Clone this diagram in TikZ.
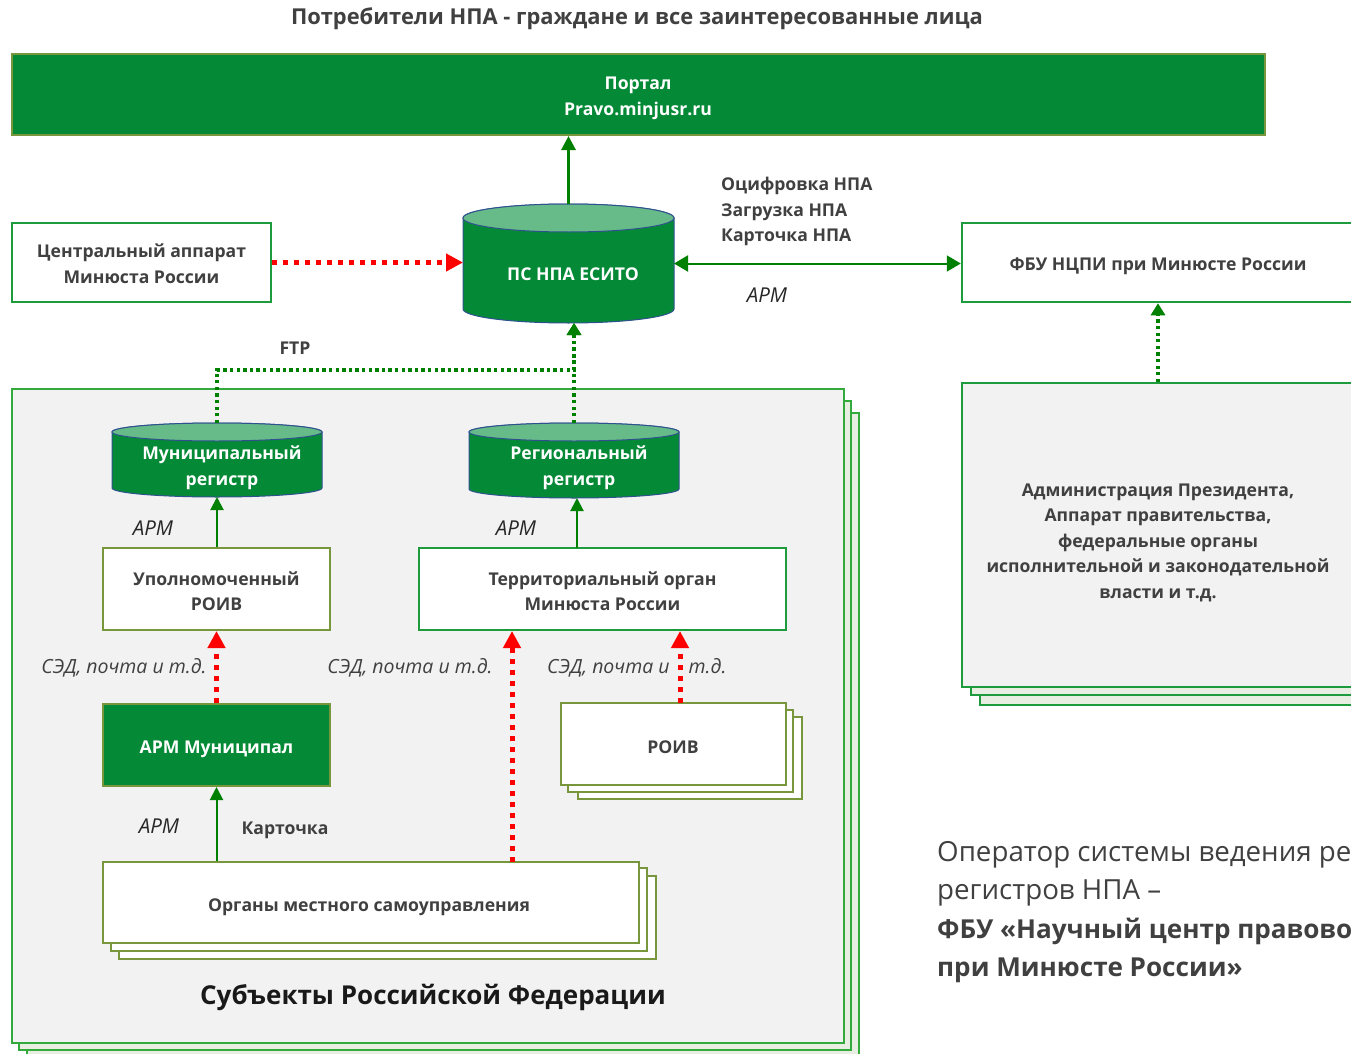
\documentclass[tikz,border=0pt]{standalone}
\usepackage{fontspec}
\setmainfont{Open Sans}
\usetikzlibrary{arrows.meta,calc}
\definecolor{dgreen}{RGB}{4,138,54}
\definecolor{lgreen}{RGB}{103,187,137}
\definecolor{agreen}{RGB}{0,128,0}
\definecolor{bgreen}{RGB}{30,155,60}
\definecolor{sgreen}{RGB}{50,170,60}
\definecolor{olive}{RGB}{120,150,60}
\definecolor{cylline}{RGB}{47,82,143}
\definecolor{txt}{RGB}{64,64,64}
\definecolor{grayfill}{RGB}{242,242,242}
\definecolor{shfill}{RGB}{232,238,226}
\newcommand\drawcyl[3]{%
 \draw[fill=dgreen,draw=cylline,line width=1] ($(#1.north west)+(0,#3)$) -- ($(#1.south west)+(0,-#3)$) arc[start angle=180,end angle=0,x radius=#2,y radius=#3] -- ($(#1.north east)+(0,#3)$) arc[start angle=0,end angle=-180,x radius=#2,y radius=#3] -- cycle;
 \draw[fill=lgreen,draw=cylline,line width=1] ($(#1.north)+(0,#3)$) ellipse[x radius=#2,y radius=#3];}
\tikzset{
 anc/.style={inner sep=0, outer sep=0, minimum width=#1},
 lab/.style={text=txt, font=\bfseries\fontsize{17.6}{25.5}\selectfont, align=center, inner sep=0},
 wlab/.style={text=white, font=\bfseries\fontsize{17.6}{26}\selectfont, align=center, inner sep=0},
 ilab/.style={text=black!85, font=\itshape\fontsize{20.5}{24}\selectfont, inner sep=0},
 slab/.style={text=txt, font=\itshape\fontsize{19.5}{23}\selectfont, inner sep=0},
 gbox/.style={draw=bgreen, line width=2.5, fill=white, inner sep=0},
 obox/.style={draw=olive, line width=2, fill=white, inner sep=0},
 garrow/.style={draw=agreen, line width=3, -{Triangle[length=14pt,width=14pt]}},
 gthin/.style={draw=agreen, line width=2, -{Triangle[length=13pt,width=13pt]}},
 gbi/.style={draw=agreen, line width=2, {Triangle[length=14pt,width=16pt]}-{Triangle[length=14pt,width=16pt]}},
 rdot/.style={draw=red, line width=5, dash pattern=on 5pt off 6pt, -{Triangle[length=17pt,width=17pt]}},
 gdot/.style={draw=agreen, line width=3.2, dash pattern=on 3.3pt off 3.3pt, -{Triangle[length=12pt,width=14pt]}},
}
\begin{document}
\begin{tikzpicture}[x=1pt,y=-1pt]
\useasboundingbox (0,0) rectangle (1351,1054);
\clip (0,0) rectangle (1351,1054);
\fill[white] (0,0) rectangle (1351,1054);

% header
\node[lab, font=\bfseries\fontsize{21.9}{26}\selectfont] (hdr) at (637,19) {Потребители НПА - граждане и все заинтересованные лица};

% portal
\node[draw=olive, line width=2, fill=dgreen, minimum width=1253, minimum height=81, inner sep=0] (portal) at (638.5,94.5) {};
\node[wlab] (portaltext) at (638,98) {Портал\\Pravo.minjusr.ru};

% central apparatus
\node[gbox, minimum width=259, minimum height=79] (central) at (141.5,262.5) {};
\node[lab] (centraltext) at (141.5,263.5) {Центральный аппарат\\Минюста России};

% FBU box
\node[gbox, minimum width=392, minimum height=79] (fbu) at (1158,262.5) {};
\node[lab] (fbutext) at (1158,266) {ФБУ НЦПИ при Минюсте России};

% admin stack
\draw[draw=bgreen, line width=2, fill=shfill] (980,399) rectangle (1372,705);
\draw[draw=bgreen, line width=2, fill=shfill] (971,391) rectangle (1364,695);
\node[draw=bgreen, line width=2, fill=grayfill, minimum width=392, minimum height=304, inner sep=0] (admin) at (1158,535) {};
\node[lab] (admintext) at (1158,542.5) {Администрация Президента,\\Аппарат правительства,\\федеральные органы\\исполнительной и законодательной\\власти и т.д.};

% subjects stack
\draw[draw=sgreen, line width=1.5, fill=shfill] (27,413) rectangle (859,1058);
\draw[draw=sgreen, line width=1.5, fill=shfill] (19,401) rectangle (851,1050);
\node[draw=sgreen, line width=1.5, fill=grayfill, minimum width=832, minimum height=654, inner sep=0] (subj) at (428,716) {};
\node[text=black!90, font=\bfseries\fontsize{26}{31}\selectfont, inner sep=0] (subjtext) at (433,997) {Субъекты Российской Федерации};

% PS NPA cylinder
\node[anc=211, minimum height=119] (ps) at (568.5,263.5) {};
\drawcyl{ps}{105.5}{14}
\node[wlab] (pstext) at (573,274) {ПС НПА ЕСИТО};

% municipal register
\node[anc=210, minimum height=74] (muni) at (217,460) {};
\drawcyl{muni}{105}{9}
\node[wlab] (munitext) at (222,468) {Муниципальный\\регистр};

% regional register
\node[anc=210, minimum height=75] (reg) at (574,460.5) {};
\drawcyl{reg}{105}{9}
\node[wlab] (regtext) at (579,468) {Региональный\\регистр};

% inner boxes
\node[obox, minimum width=227, minimum height=82] (upoln) at (216.5,589) {};
\node[lab] (upolntext) at (216.5,591) {Уполномоченный\\РОИВ};
\node[draw=bgreen, line width=2, fill=white, inner sep=0, minimum width=367, minimum height=82] (terr) at (602.5,589) {};
\node[lab] (terrtext) at (602.5,591) {Территориальный орган\\Минюста России};
\node[draw=olive, line width=2, fill=dgreen, inner sep=0, minimum width=227, minimum height=82] (armm) at (216.5,745) {};
\node[wlab] (armmtext) at (216.5,749) {АРМ Муниципал};

% ROIV stack
\draw[obox] (578,717) rectangle (802,799);
\draw[obox] (568,710) rectangle (793,792);
\node[obox, minimum width=225, minimum height=82] (roiv) at (673.5,744) {};
\node[lab] (roivtext) at (673,747) {РОИВ};

% local government stack
\draw[obox] (119,876) rectangle (656,959);
\draw[obox] (111,868) rectangle (647,951);
\node[obox, minimum width=536, minimum height=81] (organy) at (371,902.5) {};
\node[lab] (organytext) at (369,907) {Органы местного самоуправления};

% connectors
\draw[garrow] (ps.north) -- (ps.north |- portal.south);
\draw[rdot] (central.east) -- (central.east -| ps.west);
\draw[gbi] (ps.east) -- (ps.east -| fbu.west);
\draw[gdot] (admin.north) -- (fbu.south);
\draw[gdot] (muni.north) -- ++(0,-53) -| (reg.north |- ps.south);
\draw[gdot] (reg.north) -- (reg.north |- ps.south);
\draw[gthin] (upoln.north -| muni.south) -- (muni.south);
\coordinate (terrup) at (577,548);
\draw[gthin] (terrup) -- (terrup |- reg.south);
\draw[rdot] (armm.north) -- (upoln.south);
\coordinate (orgup) at (512,862);
\draw[rdot] (orgup) -- (orgup |- terr.south);
\coordinate (roivup) at (680,703);
\draw[rdot] (roivup) -- (roivup |- terr.south);
\draw[gthin] (armm.south |- organy.north) -- (armm.south);

% labels
\node[lab, anchor=west, align=left] (fbulabels) at (721,211.5) {Оцифровка НПА\\Загрузка НПА\\Карточка НПА};
\node[ilab] (arm1) at (767,295) {АРМ};
\node[lab] (ftp) at (295,348.5) {FTP};
\node[ilab] (arm2) at (153,528) {АРМ};
\node[ilab] (arm3) at (516,528) {АРМ};
\node[ilab] (arm4) at (159,826) {АРМ};
\node[lab] (kart) at (285,830) {Карточка};
\node[slab] (sed1) at (124,668) {СЭД, почта и т.д.};
\node[slab] (sed2) at (410,668) {СЭД, почта и т.д.};
\node[slab, anchor=west] (sed3) at (547,668) {СЭД, почта и\hspace{19pt}т.д.};

% operator text
\node[anchor=west, align=left, inner sep=0, text=txt, font=\fontsize{27.7}{38.3}\selectfont] (oper) at (937,912) {Оператор системы ведения ре\\регистров НПА –\\{\bfseries\fontsize{26.1}{38.3}\selectfont ФБУ «Научный центр правово}\\{\bfseries\fontsize{26.1}{38.3}\selectfont при Минюсте России»}};
\end{tikzpicture}
\end{document}
